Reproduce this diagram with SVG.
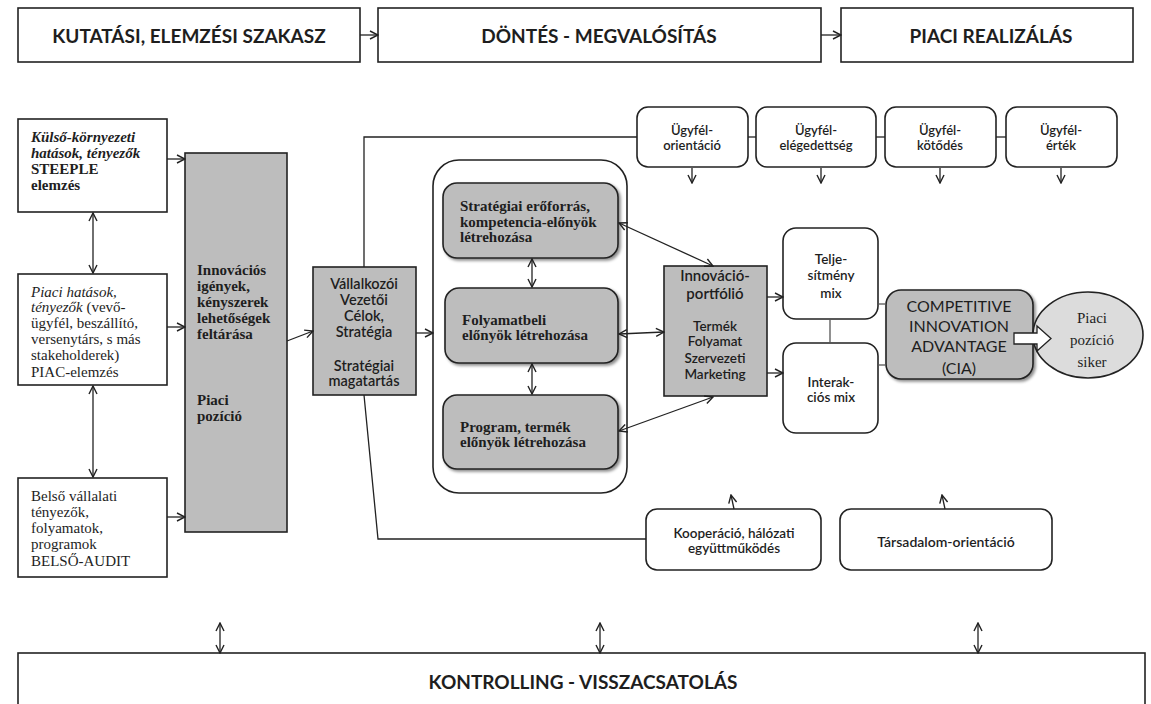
<svg xmlns="http://www.w3.org/2000/svg" width="1151" height="704" viewBox="0 0 1151 704">
<defs>
<marker id="ah" viewBox="0 0 10 10" refX="9" refY="5" markerWidth="10" markerHeight="10" markerUnits="userSpaceOnUse" orient="auto-start-reverse"><path d="M1,1 L9,5 L1,9" fill="none" stroke="#222" stroke-width="1.4"/></marker>
<filter id="sh" x="-10%" y="-10%" width="125%" height="130%"><feDropShadow dx="2" dy="2" stdDeviation="1.5" flood-color="#000" flood-opacity="0.45"/></filter>
<style>
.box{fill:#fff;stroke:#222;stroke-width:1.6}
.gray{fill:#bdbdbd;stroke:#222;stroke-width:1.6}
.ln{fill:none;stroke:#222;stroke-width:1.3}
.arr{marker-end:url(#ah)}
.dbl{marker-start:url(#ah);marker-end:url(#ah)}
text{dominant-baseline:central;fill:#1e1e1e}
.sf{font-family:"Liberation Serif","Times New Roman",serif;font-size:15px}
.sb{font-weight:bold}
.it{font-style:italic}
.ss{font-family:Lato,"Open Sans",sans-serif}
.hd{font-family:Lato,"Open Sans",sans-serif;font-weight:bold;font-size:19px}
.mid{text-anchor:middle}
</style>
</defs>
<rect width="1151" height="704" fill="#fff"/>

<!-- top phases -->
<g id="phase1"><rect class="box" x="18" y="8" width="342" height="54"/><text class="hd mid" x="189" y="35">KUTATÁSI, ELEMZÉSI SZAKASZ</text></g>
<g id="phase2"><rect class="box" x="378" y="8" width="443" height="54"/><text class="hd mid" x="599" y="35">DÖNTÉS - MEGVALÓSÍTÁS</text></g>
<g id="phase3"><rect class="box" x="841" y="8" width="292" height="54"/><text class="hd mid" x="991" y="35">PIACI REALIZÁLÁS</text></g>

<!-- left column -->
<g id="kulso"><rect class="box" x="18" y="119" width="149" height="93"/>
<text class="sf sb it" x="31" y="137">Külső-környezeti</text>
<text class="sf sb it" x="31" y="153">hatások, tényezők</text>
<text class="sf sb" x="31" y="169">STEEPLE</text>
<text class="sf sb" x="31" y="185">elemzés</text></g>
<g id="piaci"><rect class="box" x="18" y="274" width="149" height="111"/>
<text class="sf" x="31" y="292"><tspan class="it">Piaci hatások,</tspan></text>
<text class="sf" x="31" y="307"><tspan class="it">tényezők</tspan> (vevő-</text>
<text class="sf" x="31" y="323">ügyfél, beszállító,</text>
<text class="sf" x="31" y="339">versenytárs,  s más</text>
<text class="sf" x="31" y="355">stakeholderek)</text>
<text class="sf" x="31" y="372">PIAC-elemzés</text></g>
<g id="belso"><rect class="box" x="18" y="478" width="149" height="99"/>
<text class="sf" x="31" y="496">Belső vállalati</text>
<text class="sf" x="31" y="512">tényezők,</text>
<text class="sf" x="31" y="528">folyamatok,</text>
<text class="sf" x="31" y="544">programok</text>
<text class="sf" x="31" y="561">BELSŐ-AUDIT</text></g>

<g id="innovacios"><rect class="gray" x="185" y="153" width="102" height="379"/>
<text class="sf sb" x="197" y="270">Innovációs</text>
<text class="sf sb" x="197" y="286">igények,</text>
<text class="sf sb" x="197" y="302">kényszerek</text>
<text class="sf sb" x="197" y="318">lehetőségek</text>
<text class="sf sb" x="197" y="334">feltárása</text>
<text class="sf sb" x="197" y="400">Piaci</text>
<text class="sf sb" x="197" y="416">pozíció</text></g>

<g id="vallalkozoi"><rect class="gray" x="313" y="267" width="103" height="128"/>
<g class="ss mid" font-size="14.5" font-weight="600">
<text x="364" y="283">Vállalkozói</text>
<text x="364" y="299">Vezetői</text>
<text x="364" y="315">Célok,</text>
<text x="364" y="331">Stratégia</text>
<text x="364" y="365">Stratégiai</text>
<text x="364" y="380">magatartás</text></g></g>

<!-- container with inner boxes -->
<g id="container"><rect x="433" y="160" width="194" height="333" rx="26" fill="none" stroke="#222" stroke-width="1.6"/></g>
<g id="eroforras"><rect class="gray" x="443" y="183" width="175" height="75" rx="14" filter="url(#sh)"/>
<text class="sf sb" x="460" y="206">Stratégiai erőforrás,</text>
<text class="sf sb" x="460" y="222">kompetencia-előnyök</text>
<text class="sf sb" x="460" y="237">létrehozása</text></g>
<g id="folyamatbeli"><rect class="gray" x="445" y="288" width="173" height="75" rx="14" filter="url(#sh)"/>
<text class="sf sb" x="462" y="320">Folyamatbeli</text>
<text class="sf sb" x="462" y="335">előnyök létrehozása</text></g>
<g id="program"><rect class="gray" x="443" y="395" width="175" height="74" rx="14" filter="url(#sh)"/>
<text class="sf sb" x="460" y="427">Program, termék</text>
<text class="sf sb" x="460" y="442">előnyök létrehozása</text></g>

<g id="portfolio"><rect class="gray" x="664" y="266" width="103" height="130"/>
<g class="ss mid" font-weight="600">
<text x="715" y="275" font-size="15">Innováció-</text>
<text x="715" y="293" font-size="15">portfólió</text>
<text x="715" y="326" font-size="13.5">Termék</text>
<text x="715" y="341" font-size="13.5">Folyamat</text>
<text x="715" y="358" font-size="13.5">Szervezeti</text>
<text x="715" y="374" font-size="13.5">Marketing</text></g></g>

<g id="teljesitmeny"><rect class="box" x="783" y="228" width="95" height="91" rx="13"/>
<g class="ss mid" font-size="13.5" font-weight="600"><text x="831" y="259">Telje-</text><text x="831" y="275">sítmény</text><text x="831" y="293">mix</text></g></g>
<g id="interakcios"><rect class="box" x="783" y="343" width="95" height="90" rx="13"/>
<g class="ss mid" font-size="13.5" font-weight="600"><text x="831" y="382">Interak-</text><text x="831" y="397">ciós mix</text></g></g>

<g id="cia"><rect class="gray" x="886" y="290" width="147" height="89" rx="15" filter="url(#sh)"/>
<g class="ss mid" font-size="16"><text x="959" y="305">COMPETITIVE</text><text x="959" y="325">INNOVATION</text><text x="959" y="345">ADVANTAGE</text><text x="959" y="367">(CIA)</text></g></g>

<g id="siker"><ellipse cx="1088" cy="335" rx="55" ry="43" fill="#dcdcdc" stroke="#222" stroke-width="1.6"/>
<g class="sf mid" font-size="18"><text x="1092" y="318">Piaci</text><text x="1092" y="340">pozíció</text><text x="1092" y="362">siker</text></g></g>
<g id="blockarrow"><path d="M1014,333 L1037,333 L1037,326 L1051,338.5 L1037,351 L1037,344 L1014,344 Z" fill="#fff" stroke="#222" stroke-width="1.3"/></g>

<!-- customer boxes -->
<g id="u1"><rect class="box" x="637" y="107" width="111" height="60" rx="11"/><g class="ss mid" font-size="13" font-weight="600"><text x="692" y="130">Ügyfél-</text><text x="692" y="145">orientáció</text></g></g>
<g id="u2"><rect class="box" x="756" y="107" width="120" height="60" rx="11"/><g class="ss mid" font-size="13" font-weight="600"><text x="816" y="130">Ügyfél-</text><text x="816" y="145">elégedettség</text></g></g>
<g id="u3"><rect class="box" x="885" y="107" width="111" height="60" rx="11"/><g class="ss mid" font-size="13" font-weight="600"><text x="940" y="130">Ügyfél-</text><text x="940" y="145">kötődés</text></g></g>
<g id="u4"><rect class="box" x="1006" y="107" width="111" height="60" rx="11"/><g class="ss mid" font-size="13" font-weight="600"><text x="1061" y="130">Ügyfél-</text><text x="1061" y="145">érték</text></g></g>

<g id="kooperacio"><rect class="box" x="646" y="509" width="175" height="61" rx="11"/><g class="ss mid" font-size="13.5" font-weight="600"><text x="734" y="533">Kooperáció, hálózati</text><text x="734" y="548">együttműködés</text></g></g>
<g id="tarsadalom"><rect class="box" x="840" y="509" width="212" height="61" rx="11"/><text class="ss mid" font-size="14" font-weight="600" x="946" y="541">Társadalom-orientáció</text></g>

<g id="kontrolling"><rect class="box" x="18" y="653" width="1127" height="60"/><text class="hd mid" x="583" y="681">KONTROLLING - VISSZACSATOLÁS</text></g>

<!-- connectors -->
<g id="connectors">
<line class="ln arr" x1="360" y1="35" x2="378" y2="35"/>
<line class="ln arr" x1="821" y1="35" x2="841" y2="35"/>
<line class="ln dbl" x1="93" y1="213" x2="93" y2="273"/>
<line class="ln dbl" x1="93" y1="386" x2="93" y2="477"/>
<line class="ln arr" x1="167" y1="159" x2="185" y2="159"/>
<line class="ln arr" x1="167" y1="327" x2="185" y2="327"/>
<line class="ln arr" x1="167" y1="517" x2="185" y2="517"/>
<line class="ln arr" x1="287" y1="341" x2="313" y2="331"/>
<line class="ln arr" x1="416" y1="333" x2="433" y2="333"/>
<polyline class="ln" points="364,267 364,137 637,137"/>
<polyline class="ln" points="364,395 378,539 646,539"/>
<line class="ln" x1="748" y1="137" x2="756" y2="137"/>
<line class="ln" x1="876" y1="137" x2="885" y2="137"/>
<line class="ln" x1="996" y1="137" x2="1006" y2="137"/>
<line class="ln arr" x1="692" y1="168" x2="692" y2="183"/>
<line class="ln arr" x1="821" y1="168" x2="821" y2="183"/>
<line class="ln arr" x1="940" y1="168" x2="940" y2="183"/>
<line class="ln arr" x1="1061" y1="168" x2="1061" y2="183"/>
<line class="ln dbl" x1="532" y1="259" x2="532" y2="287"/>
<line class="ln dbl" x1="532" y1="364" x2="532" y2="394"/>
<line class="ln dbl" x1="619" y1="223" x2="713" y2="266"/>
<line class="ln dbl" x1="619" y1="334" x2="664" y2="332"/>
<line class="ln dbl" x1="619" y1="431" x2="713" y2="397"/>
<line class="ln arr" x1="767" y1="297" x2="783" y2="297"/>
<line class="ln arr" x1="767" y1="373" x2="783" y2="373"/>
<line x1="830" y1="319" x2="830" y2="343" stroke="#555" stroke-width="1.3"/>
<line x1="878" y1="304" x2="886" y2="304" stroke="#555" stroke-width="1.3"/>
<line x1="878" y1="365" x2="886" y2="365" stroke="#555" stroke-width="1.3"/>
<line class="ln arr" x1="734" y1="509" x2="731" y2="495"/>
<line class="ln arr" x1="945" y1="509" x2="942" y2="495"/>
<line class="ln dbl" x1="220" y1="623" x2="220" y2="653"/>
<line class="ln dbl" x1="600" y1="623" x2="600" y2="653"/>
<line class="ln dbl" x1="978" y1="623" x2="978" y2="653"/>
</g>
</svg>
